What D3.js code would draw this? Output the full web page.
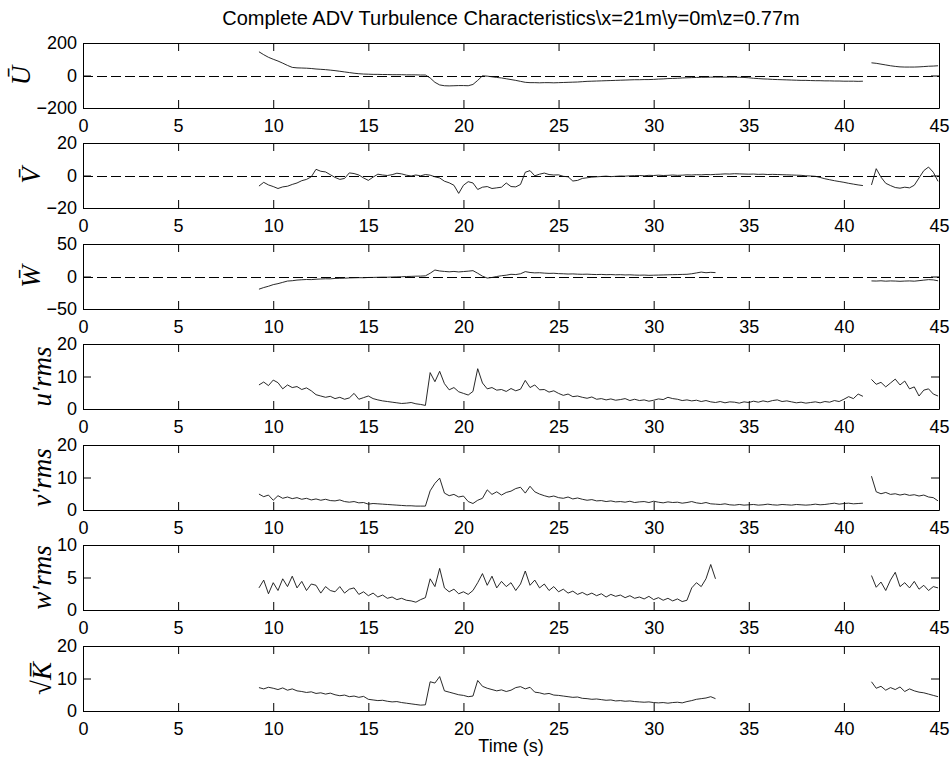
<!DOCTYPE html>
<html>
<head>
<meta charset="utf-8">
<script src="https://cdn.jsdelivr.net/npm/d3@7"></script>
<style>
body { margin: 0; background: #fff; }
svg { display: block; font-family: "Liberation Sans", Arial, sans-serif; }
.axis text { font-family: "Liberation Sans", Arial, sans-serif; font-size: 18px; fill: #000; }
.axis path, .axis line { stroke: #000; }
.ylabel { font-family: "Liberation Serif", "DejaVu Serif", serif; font-style: italic; font-size: 27px; fill: #000; }
</style>
</head>
<body>
<script>
// sampling of the two record segments (s)
var SEG1_START = 9.25;
var SEG2_START = 41.45;
var STEP = 0.25;

var XTICKS = [0, 5, 10, 15, 20, 25, 30, 35, 40, 45];
var TITLE = "Complete ADV Turbulence Characteristics\\x=21m\\y=0m\\z=0.77m";
var XLABEL = "Time (s)";
var YLABELS = ["U\u0304", "V\u0304", "W\u0304", "u\u2032rms", "v\u2032rms", "w\u2032rms", "\u221AK\u0305"];
var YDOMAINS = [[-200, 200], [-20, 20], [-50, 50], [0, 20], [0, 20], [0, 10], [0, 20]];
var YTICKS = [[-200, 0, 200], [-20, 0, 20], [-50, 0, 50], [0, 10, 20], [0, 10, 20], [0, 5, 10], [0, 10, 20]];
var ZEROLINE = [true, true, true, false, false, false, false];

// mean U, one row per second (t-0.75 .. t)
var U1 = [146, 128, 112, 100, 89, 76, 62, 50, 47, 46, 45, 43, 40, 38, 36, 33,
  30, 26, 22, 18, 14, 11, 9, 8, 7, 7, 6, 6, 5, 5, 5, 4,
  4, 4, 3, 3, -15, -42, -58, -63, -64, -63, -62, -62, -63, -55, -30, -2,
  -4, -8, -12, -15, -20, -25, -30, -36, -42, -44, -44, -45, -44, -44, -45, -44,
  -43, -42, -41, -40, -38, -36, -35, -34, -33, -32, -31, -30, -29, -28, -27, -26,
  -26, -25, -25, -24, -22, -21, -19, -18, -17, -15, -14, -13, -12, -11, -11, -10,
  -10, -10, -10, -10, -10, -11, -12, -14, -17, -19, -21, -22, -24, -25, -26, -27,
  -28, -29, -30, -30, -31, -32, -32, -33, -33, -34, -34, -35, -35, -35, -36, -35];
var U2 = [78, 75, 70, 65, 60, 56, 53, 52, 52, 52, 53, 55, 57, 58, 60];

var V1 = [-6.5, -4.2, -5.8, -6.8, -8.0, -7.0, -6.6, -5.5, -4.6, -3.2, -2.4, -0.8, 3.8, 2.6, 2.2, 0.5,
  -1.2, -2.4, -1.8, 1.6, 1.2, 0.3, -1.5, -3.0, -1.0, 0.8, 0.3, 0.0, 0.5, 1.4, 1.0, 0.2,
  -0.3, 0.3, -0.2, 0.6, 0.2, -0.8, -1.5, -3.5, -4.5, -6.0, -11.0, -6.0, -3.8, -4.6, -8.6, -7.2,
  -6.8, -8.0, -7.6, -7.2, -4.6, -6.8, -7.0, -5.5, 2.0, 3.0, -0.2, 0.8, 1.5, 0.6, 0.3, 0.4,
  -0.5, -0.8, -3.4, -3.0, -1.8, -1.4, -1.0, -0.8, -0.6, -0.4, -0.7, -0.5, -0.3, -0.4, -0.2, -0.1,
  0.0, -0.2, 0.1, 0.0, 0.2, 0.0, 0.1, 0.3, 0.1, 0.2, 0.4, 0.3, 0.5, 0.4, 0.6, 0.5,
  0.7, 0.8, 1.0, 0.9, 1.1, 1.0, 0.9, 0.8, 0.9, 0.7, 0.8, 0.6, 0.7, 0.6, 0.5, 0.4,
  0.3, 0.2, 0.1, -0.2, -0.3, -0.5, -1.2, -2.0, -2.6, -3.2, -3.7, -4.2, -4.8, -5.3, -5.8, -6.2];
var V2 = [-5.8, 4.2, -1.0, -4.8, -6.2, -7.4, -7.8, -7.2, -7.6, -6.0, -1.5, 3.0, 5.2, 2.0, -3.6];

var W1 = [-19.5, -17.0, -15.0, -12.5, -11.0, -9.0, -7.0, -6.5, -5.5, -5.0, -4.6, -4.8, -4.2, -3.8, -3.5, -3.6,
  -3.0, -2.8, -2.6, -2.2, -2.0, -1.8, -1.9, -1.5, -1.4, -1.2, -1.0, -1.1, -0.8, -0.6, -0.4, 0.0,
  0.2, 0.5, 0.6, 1.0, 5.0, 10.0, 8.5, 7.8, 7.2, 7.8, 7.0, 7.6, 8.2, 9.0, 5.0, 0.5,
  -2.4, -1.5, 0.0, 1.2, 2.0, 3.4, 3.0, 4.2, 7.5, 6.2, 5.6, 5.8, 5.2, 4.8, 5.0, 4.4,
  4.2, 3.8, 4.0, 3.6, 3.4, 3.6, 3.2, 3.0, 3.2, 2.8, 3.0, 2.6, 2.8, 2.4, 2.6, 2.2,
  2.0, 2.2, 1.8, 2.0, 2.2, 2.4, 2.6, 2.8, 3.0, 3.2, 3.4, 4.2, 5.5, 6.8, 5.8, 6.4,
  6.0];
var W2 = [-6.8, -7.0, -6.6, -7.2, -6.8, -7.0, -7.4, -7.0, -6.8, -7.2, -6.4, -5.6, -4.8, -5.2, -6.6];

var URMS1 = [7.4, 8.3, 7.2, 8.9, 8.1, 6.2, 7.4, 6.6, 6.9, 6.0, 6.5, 5.6, 4.4, 4.0, 3.6, 3.9,
  3.2, 3.6, 3.0, 3.4, 4.8, 3.0, 3.5, 4.0, 3.2, 2.8, 2.5, 2.3, 2.1, 1.9, 1.7, 1.8,
  2.0, 1.6, 1.4, 1.1, 11.2, 8.4, 11.6, 7.8, 5.9, 6.6, 5.3, 4.8, 4.3, 5.4, 12.4, 8.0,
  6.2, 6.6, 5.8, 6.0, 5.4, 6.3, 5.6, 6.1, 8.8, 6.6, 7.4, 5.9, 6.0, 5.2, 5.6, 4.8,
  4.2, 4.6, 3.8, 4.0, 3.6, 3.3, 3.7, 3.0, 3.2, 2.8, 3.1, 2.7, 2.9, 3.2, 2.6, 3.0,
  2.6, 2.8, 2.4, 2.7, 3.1, 2.9, 3.6, 3.2, 3.0, 2.6, 2.8, 2.5, 2.7, 2.3, 2.6, 2.2,
  2.0, 2.3, 1.9, 2.2, 2.1, 1.8, 2.2, 2.0, 2.4, 2.1, 2.5, 2.2, 2.6, 2.8, 2.3, 2.5,
  2.2, 1.9, 2.1, 1.8, 2.0, 2.2, 1.9, 2.3, 2.1, 2.6, 2.3, 3.0, 3.8, 3.2, 4.6, 3.9];
var URMS2 = [9.1, 7.6, 8.2, 6.8, 8.0, 9.2, 7.4, 8.6, 6.2, 6.8, 4.0, 5.8, 6.2, 4.6, 4.0];

var VRMS1 = [4.9, 4.1, 4.6, 3.0, 4.4, 3.6, 4.0, 3.5, 3.8, 3.3, 3.6, 3.1, 3.4, 3.0, 3.3, 2.9,
  2.8, 3.1, 2.6, 2.4, 2.6, 2.2, 2.3, 1.8, 2.0, 1.9, 1.8, 1.7, 1.6, 1.5, 1.4, 1.3,
  1.3, 1.2, 1.2, 1.2, 5.9, 8.2, 9.8, 5.2, 4.4, 4.8, 4.0, 4.3, 2.6, 2.0, 3.0, 3.6,
  6.2, 4.8, 5.6, 4.6, 5.4, 5.8, 6.6, 7.0, 5.2, 7.3, 5.6, 4.9, 4.4, 4.0, 4.3, 3.8,
  3.6, 4.0, 3.4, 3.7, 3.3, 3.0, 3.2, 2.8, 2.9, 2.6, 2.8, 2.5, 2.6, 2.4, 2.7, 2.3,
  2.5, 2.6, 2.3, 2.7, 2.4, 2.2, 2.5, 2.3, 2.4, 2.1, 2.3, 2.6, 2.2, 2.0, 2.3, 1.9,
  1.8, 1.7, 1.9, 1.6, 1.5, 1.7, 1.5, 1.6, 1.7, 1.5, 1.6, 1.8, 1.6, 1.5, 1.7, 1.6,
  1.5, 1.7, 1.6, 1.5, 1.6, 1.8, 1.6, 1.7, 1.9, 2.1, 1.8, 2.0, 2.1, 1.9, 2.0, 2.1];
var VRMS2 = [10.4, 5.6, 5.0, 5.4, 4.8, 5.0, 4.6, 4.9, 4.5, 4.7, 4.3, 4.6, 4.0, 3.8, 2.8];

var WRMS1 = [3.4, 4.6, 2.5, 4.2, 3.0, 4.8, 3.6, 5.2, 3.4, 4.4, 3.0, 4.0, 3.8, 2.6, 3.6, 3.0,
  2.8, 3.6, 2.6, 3.2, 3.4, 2.4, 2.8, 2.2, 2.6, 2.0, 2.3, 1.8, 2.0, 1.6, 1.8, 1.5,
  1.4, 1.2, 1.6, 1.9, 4.8, 3.6, 6.4, 3.4, 2.8, 3.2, 2.5, 2.8, 2.4, 3.0, 4.2, 5.6,
  3.8, 5.2, 3.4, 4.4, 3.6, 4.2, 3.0, 4.0, 6.0, 3.8, 4.6, 3.4, 4.0, 3.0, 3.6, 2.8,
  3.2, 2.6, 2.9, 2.4, 2.7, 2.3, 2.6, 2.2, 2.5, 2.0, 2.4, 2.1, 2.3, 1.9, 2.2, 1.8,
  2.0, 1.7, 2.1, 1.6, 1.9, 1.5, 1.8, 1.4, 1.7, 1.3, 1.5, 3.4, 4.2, 3.6, 4.8, 7.0,
  4.8];
var WRMS2 = [5.3, 3.5, 4.3, 3.0, 4.6, 5.8, 3.6, 4.2, 3.4, 4.4, 3.2, 3.8, 3.0, 3.6, 3.4];

var SQK1 = [7.2, 6.8, 7.3, 7.0, 6.6, 7.1, 6.4, 6.8, 6.2, 6.0, 5.7, 5.9, 5.4, 5.6, 5.2, 5.5,
  5.0, 4.7, 4.9, 4.4, 4.6, 4.2, 4.5, 3.6, 3.4, 3.2, 3.3, 3.0, 2.8, 2.9, 2.6, 2.4,
  2.2, 2.0, 1.8, 1.9, 9.0, 8.6, 10.6, 6.2, 5.8, 5.4, 5.0, 4.8, 4.4, 4.6, 9.4, 7.6,
  7.0, 6.6, 6.2, 6.5, 6.0, 6.4, 7.2, 7.5, 6.8, 7.3, 5.8, 5.6, 5.2, 5.4, 4.9, 4.8,
  4.6, 4.4, 4.2, 4.3, 3.9, 3.8, 3.6, 3.7, 3.5, 3.3, 3.4, 3.1, 3.2, 3.0, 3.1, 2.9,
  2.8, 2.7, 2.8, 2.6, 2.5, 2.6, 2.4, 2.6, 2.7, 2.5, 2.9, 3.2, 3.6, 3.8, 4.0, 4.4,
  3.8];
var SQK2 = [9.0, 7.0, 7.6, 6.4, 7.2, 6.6, 7.4, 6.0, 6.8, 6.2, 5.8, 5.6, 5.2, 4.8, 4.4];

var SERIES = [[U1, U2], [V1, V2], [W1, W2], [URMS1, URMS2], [VRMS1, VRMS2], [WRMS1, WRMS2], [SQK1, SQK2]];

var W = 951, H = 761;
var plotLeft = 83, plotRight = 939;
var panelTop = 43, panelStep = 100.5, panelH = 65, tick = 8;

var svg = d3.select("body").append("svg").attr("width", W).attr("height", H);

var xScale = d3.scaleLinear().domain([0, 45]).range([plotLeft, plotRight]);

svg.append("text").attr("x", (plotLeft + plotRight) / 2).attr("y", 25)
  .attr("text-anchor", "middle").style("font-size", "20px").text(TITLE);

svg.append("text").attr("x", (plotLeft + plotRight) / 2).attr("y", 752)
  .attr("text-anchor", "middle").style("font-size", "18px").text(XLABEL);

function toPoints(values, start) {
  return values.map(function (v, i) {
    return { t: start + i * STEP, v: v };
  });
}

SERIES.forEach(function (seg, i) {
  var top = Math.floor(panelTop + i * panelStep);
  var bottom = top + panelH;
  var yScale = d3.scaleLinear().domain(YDOMAINS[i]).range([bottom, top]);
  var g = svg.append("g").attr("class", "panel");

  // zero reference line
  if (ZEROLINE[i]) {
    g.append("line").attr("x1", xScale(0)).attr("x2", xScale(45))
      .attr("y1", Math.round(yScale(0)) + 0.5).attr("y2", Math.round(yScale(0)) + 0.5)
      .attr("stroke", "#000").attr("stroke-width", 1).attr("stroke-dasharray", "10,4");
  }

  var line = d3.line().x(function (d) { return xScale(d.t); }).y(function (d) { return yScale(d.v); });
  g.append("path").datum(toPoints(seg[0], SEG1_START)).attr("d", line)
    .attr("fill", "none").attr("stroke", "#111").attr("stroke-width", 0.9);
  g.append("path").datum(toPoints(seg[1], SEG2_START)).attr("d", line)
    .attr("fill", "none").attr("stroke", "#111").attr("stroke-width", 0.9);

  // box with inward ticks on all four sides
  g.append("g").attr("class", "axis").attr("transform", "translate(0," + bottom + ")")
    .call(d3.axisBottom(xScale).tickValues(XTICKS).tickSizeInner(-tick).tickSizeOuter(0).tickPadding(11));
  g.append("g").attr("class", "axis").attr("transform", "translate(0," + top + ")")
    .call(d3.axisTop(xScale).tickValues(XTICKS).tickSizeInner(-tick).tickSizeOuter(0).tickFormat(""));
  g.append("g").attr("class", "axis").attr("transform", "translate(" + plotRight + ",0)")
    .call(d3.axisRight(yScale).tickValues(YTICKS[i]).tickSizeInner(-tick).tickSizeOuter(0).tickFormat(""));
  var left = g.append("g").attr("class", "axis").attr("transform", "translate(" + plotLeft + ",0)")
    .call(d3.axisLeft(yScale).tickValues(YTICKS[i]).tickSizeInner(-tick).tickSizeOuter(0).tickPadding(6));

  var bb = left.selectAll("text").nodes().reduce(function (m, n) {
    return Math.min(m, n.getBBox().x);
  }, 0);
  var lx = plotLeft + bb - 6;
  g.append("text").attr("class", "ylabel")
    .attr("transform", "translate(" + lx + "," + (top + bottom) / 2 + ") rotate(-90)")
    .attr("text-anchor", "middle").text(YLABELS[i]);
});
</script>
</body>
</html>
